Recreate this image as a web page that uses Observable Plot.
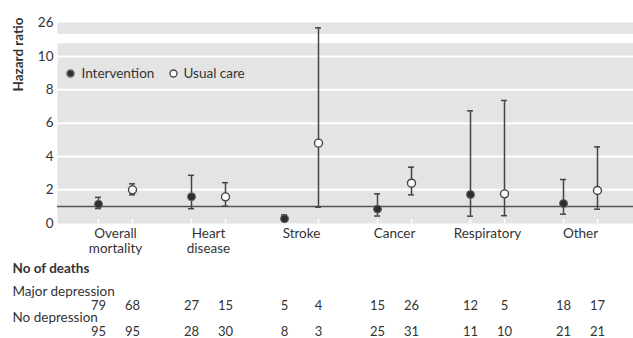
<!DOCTYPE html>
<html>
<head>
<meta charset="utf-8">
<script src="https://cdn.jsdelivr.net/npm/d3@7"></script>
<script src="https://cdn.jsdelivr.net/npm/@observablehq/plot@0.6"></script>
<style>
  html, body { margin: 0; padding: 0; background: #fff; }
  #chart { width: 633px; height: 338px; position: relative; }
</style>
</head>
<body>
<div id="chart"></div>
<script>
const categories = ["Overall\nmortality", "Heart\ndisease", "Stroke", "Cancer", "Respiratory", "Other"];
const seriesNames = ["Intervention", "Usual care"];
const interventionHR = [1.14, 1.59, 0.27, 0.85, 1.72, 1.18];
const interventionLo = [0.88, 0.87, 0.14, 0.43, 0.42, 0.54];
const interventionHi = [1.55, 2.87, 0.50, 1.76, 6.74, 2.62];
const usualHR = [2.00, 1.58, 4.80, 2.40, 1.76, 1.96];
const usualLo = [1.70, 1.02, 0.96, 1.70, 0.45, 0.84];
const usualHi = [2.36, 2.43, 25.7, 3.36, 7.36, 4.58];
const deathsMajorIntervention = [79, 27, 5, 15, 12, 18];
const deathsMajorUsual = [68, 15, 4, 26, 5, 17];
const deathsNoIntervention = [95, 28, 8, 25, 11, 21];
const deathsNoUsual = [95, 30, 3, 31, 10, 21];
const yTicks = [0, 2, 4, 6, 8, 10, 26];
const gridTicks = [2, 4, 6, 8, 10];
const yBreak = [10.76, 25.3];
const yTop = 26;
const referenceHR = 1;
const rowLabels = ["No of deaths", "Major depression", "No depression"];

const intData = categories.map((c, i) => ({cat: c, hr: interventionHR[i], lo: interventionLo[i], hi: interventionHi[i]}));
const ucData = categories.map((c, i) => ({cat: c, hr: usualHR[i], lo: usualLo[i], hi: usualHi[i]}));

const FONT = "Lato, 'Noto Sans', sans-serif";
const INK = "#333";
const BAR = "#444";
const OFF = 17;

const plot = Plot.plot({
  width: 633,
  height: 338,
  marginLeft: 57,
  marginRight: 0,
  marginTop: 22,
  marginBottom: 115,
  style: {fontFamily: FONT, fontSize: "13.5px", color: INK, background: "white"},
  x: {type: "point", domain: categories, range: [114, 581], padding: 0},
  y: {type: "linear", domain: [0, yBreak[0], yBreak[1], yTop], range: [222.7, 43.3, 34, 22.3]},
  marks: [
    Plot.frame({fill: "#e4e4e4", stroke: null}),
    Plot.rect([yBreak], {y1: d => d[0], y2: d => d[1], fill: "white"}),
    Plot.ruleY(gridTicks, {stroke: "white", strokeWidth: 2}),
    Plot.ruleY([referenceHR], {stroke: "#555", strokeWidth: 1.6}),
    Plot.axisY({ticks: yTicks, tickSize: 0, tickPadding: 4, label: null, fill: INK, fontSize: 13.5}),
    Plot.axisX({tickSize: 0, tickPadding: 5, label: null, fill: INK, fontSize: 13.5, lineHeight: 1.04}),
    Plot.axisX({tickSize: -4, fill: null, label: null, stroke: "white", strokeWidth: 1.5, dx: -OFF}),
    Plot.axisX({tickSize: -4, fill: null, label: null, stroke: "white", strokeWidth: 1.5, dx: OFF}),
    // error bars
    Plot.ruleX(intData, {x: "cat", y1: "lo", y2: "hi", dx: -OFF, stroke: BAR, strokeWidth: 1.5}),
    Plot.ruleY(intData, {x1: "cat", x2: "cat", y: "hi", dx: -OFF, insetLeft: -3, insetRight: -3, stroke: BAR, strokeWidth: 1.5}),
    Plot.ruleY(intData, {x1: "cat", x2: "cat", y: "lo", dx: -OFF, insetLeft: -3, insetRight: -3, stroke: BAR, strokeWidth: 1.5}),
    Plot.ruleX(ucData, {x: "cat", y1: "lo", y2: "hi", dx: OFF, stroke: BAR, strokeWidth: 1.5}),
    Plot.ruleY(ucData, {x1: "cat", x2: "cat", y: "hi", dx: OFF, insetLeft: -3, insetRight: -3, stroke: BAR, strokeWidth: 1.5}),
    Plot.ruleY(ucData, {x1: "cat", x2: "cat", y: "lo", dx: OFF, insetLeft: -3, insetRight: -3, stroke: BAR, strokeWidth: 1.5}),
    // points
    Plot.dot(intData, {x: "cat", y: "hr", dx: -OFF, r: 4, fill: "#2e2e2e", stroke: "#666", strokeWidth: 1}),
    Plot.dot(ucData, {x: "cat", y: "hr", dx: OFF, r: 4, fill: "white", stroke: BAR, strokeWidth: 1.4}),
    // legend
    Plot.dot([seriesNames[0]], {frameAnchor: "top-left", dx: 13, dy: 51, r: 3.5, fill: "#2e2e2e", stroke: "#666"}),
    Plot.text([seriesNames[0]], {frameAnchor: "top-left", dx: 24, dy: 51, textAnchor: "start", lineAnchor: "middle", fill: INK}),
    Plot.dot([seriesNames[1]], {frameAnchor: "top-left", dx: 116, dy: 51, r: 3.5, fill: "white", stroke: BAR, strokeWidth: 1.3}),
    Plot.text([seriesNames[1]], {frameAnchor: "top-left", dx: 126, dy: 51, textAnchor: "start", lineAnchor: "middle", fill: INK}),
    // y label
    Plot.text(["Hazard ratio"], {frameAnchor: "top-left", dx: -39, dy: -5, rotate: -90, textAnchor: "end", lineAnchor: "middle", fontWeight: "bold", fill: INK}),
    // table
    Plot.text([rowLabels[0]], {frameAnchor: "bottom-left", dx: -45, dy: 45.6, textAnchor: "start", lineAnchor: "middle", fontWeight: "bold", fill: INK}),
    Plot.text([rowLabels[1]], {frameAnchor: "bottom-left", dx: -45, dy: 68, textAnchor: "start", lineAnchor: "middle", fill: INK}),
    Plot.text([rowLabels[2]], {frameAnchor: "bottom-left", dx: -45, dy: 94, textAnchor: "start", lineAnchor: "middle", fill: INK}),
    Plot.text(categories, {x: d => d, text: (d, i) => deathsMajorIntervention[i], frameAnchor: "bottom", lineAnchor: "middle", dx: -OFF, dy: 82.5, fontSize: 13, fill: INK}),
    Plot.text(categories, {x: d => d, text: (d, i) => deathsMajorUsual[i], frameAnchor: "bottom", lineAnchor: "middle", dx: OFF, dy: 82.5, fontSize: 13, fill: INK}),
    Plot.text(categories, {x: d => d, text: (d, i) => deathsNoIntervention[i], frameAnchor: "bottom", lineAnchor: "middle", dx: -OFF, dy: 108.8, fontSize: 13, fill: INK}),
    Plot.text(categories, {x: d => d, text: (d, i) => deathsNoUsual[i], frameAnchor: "bottom", lineAnchor: "middle", dx: OFF, dy: 108.8, fontSize: 13, fill: INK})
  ]
});
document.getElementById("chart").appendChild(plot);
</script>
</body>
</html>
